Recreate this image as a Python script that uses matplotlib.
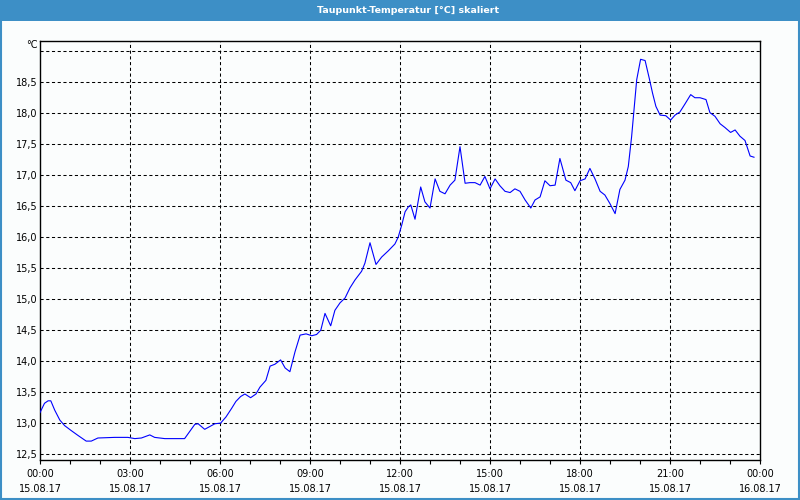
import matplotlib
matplotlib.use("Agg")
import matplotlib.pyplot as plt
from matplotlib.patches import Rectangle

# ---- data (hours after 15.08.17 00:00, dew point in °C) ----
hours = [0.00, 0.15, 0.27, 0.36, 0.49, 0.66, 0.82, 1.04, 1.27, 1.54, 1.71, 1.93,
         2.49, 2.93, 3.16, 3.38, 3.66, 3.82, 4.16, 4.82, 5.16, 5.27, 5.49, 5.83,
         6.02, 6.20, 6.39, 6.53, 6.69, 6.83, 7.02, 7.20, 7.33, 7.53, 7.67, 7.83,
         8.02, 8.17, 8.33, 8.50, 8.67, 8.87, 9.06, 9.22, 9.36, 9.50, 9.69, 9.83,
         10.00, 10.17, 10.33, 10.50, 10.72, 10.83, 11.00, 11.20, 11.39, 11.61, 11.83, 11.94,
         12.06, 12.17, 12.28, 12.36, 12.50, 12.69, 12.83, 13.00, 13.17, 13.33, 13.50, 13.67,
         13.83, 14.00, 14.17, 14.33, 14.50, 14.67, 14.83, 15.00, 15.17, 15.33, 15.50, 15.67,
         15.83, 16.00, 16.17, 16.36, 16.50, 16.67, 16.83, 17.00, 17.17, 17.33, 17.53, 17.69,
         17.83, 18.00, 18.17, 18.33, 18.50, 18.67, 18.83, 19.00, 19.17, 19.33, 19.50, 19.61,
         19.72, 19.80, 19.89, 20.02, 20.17, 20.31, 20.42, 20.53, 20.67, 20.86, 21.02, 21.17,
         21.33, 21.50, 21.69, 21.83, 22.00, 22.20, 22.33, 22.50, 22.67, 22.83, 23.02, 23.17,
         23.33, 23.50, 23.67, 23.80]
dewpoint = [13.17, 13.32, 13.36, 13.36, 13.21, 13.05, 12.96, 12.88, 12.80, 12.71, 12.71, 12.76,
            12.77, 12.77, 12.75, 12.76, 12.81, 12.77, 12.75, 12.75, 12.98, 12.99, 12.90, 12.99,
            13.00, 13.10, 13.24, 13.35, 13.43, 13.47, 13.41, 13.47, 13.58, 13.69, 13.92, 13.95,
            14.02, 13.89, 13.83, 14.15, 14.42, 14.44, 14.41, 14.43, 14.50, 14.77, 14.57, 14.82,
            14.94, 15.02, 15.18, 15.31, 15.45, 15.58, 15.91, 15.56, 15.68, 15.78, 15.89, 16.00,
            16.20, 16.41, 16.49, 16.52, 16.29, 16.81, 16.57, 16.47, 16.94, 16.74, 16.70, 16.84,
            16.92, 17.46, 16.87, 16.88, 16.88, 16.84, 16.98, 16.78, 16.94, 16.83, 16.74, 16.72,
            16.78, 16.74, 16.60, 16.47, 16.60, 16.65, 16.91, 16.83, 16.84, 17.27, 16.92, 16.88,
            16.75, 16.91, 16.94, 17.11, 16.94, 16.74, 16.68, 16.54, 16.38, 16.77, 16.92, 17.14,
            17.62, 18.05, 18.54, 18.87, 18.85, 18.56, 18.32, 18.11, 17.97, 17.96, 17.89, 17.97,
            18.02, 18.15, 18.30, 18.25, 18.25, 18.22, 18.01, 17.95, 17.83, 17.77, 17.69, 17.73,
            17.63, 17.56, 17.31, 17.29]

x_major = [0, 3, 6, 9, 12, 15, 18, 21, 24]
x_labels = ["00:00\n15.08.17", "03:00\n15.08.17", "06:00\n15.08.17", "09:00\n15.08.17",
            "12:00\n15.08.17", "15:00\n15.08.17", "18:00\n15.08.17", "21:00\n15.08.17",
            "00:00\n16.08.17"]
y_ticks = [12.5, 13.0, 13.5, 14.0, 14.5, 15.0, 15.5, 16.0, 16.5, 17.0, 17.5, 18.0, 18.5, 19.0]
y_labels = ["12,5", "13,0", "13,5", "14,0", "14,5", "15,0", "15,5", "16,0", "16,5",
            "17,0", "17,5", "18,0", "18,5", ""]
title = "Taupunkt-Temperatur [°C] skaliert"
unit = "°C"

BLUE_FRAME = "#3d8fc6"
BG = "#fbfdfd"

plt.rcParams["font.family"] = ["DejaVu Sans"]

fig = plt.figure(figsize=(8, 5), dpi=100, facecolor=BG)
W, H = 800, 500

# title band and frame
fig.patches.append(Rectangle((0, 1 - 21 / H), 1, 21 / H, transform=fig.transFigure,
                             facecolor=BLUE_FRAME, edgecolor="none", zorder=0))
fig.patches.append(Rectangle((1 / W, 1 / H), 1 - 2.5 / W, 1 - 2 / H, transform=fig.transFigure,
                             facecolor="none", edgecolor=BLUE_FRAME, linewidth=1.5, zorder=1))
fig.text(408 / W, 1 - 10.5 / H, title, color="white", fontsize=6.8, fontweight="bold",
         ha="center", va="center")

ax = fig.add_axes([40 / W, 1 - 460 / H, 720 / W, (460 - 40.7) / H])
ax.set_facecolor(BG)
ax.plot(hours, dewpoint, color="#0000ff", linewidth=0.8, zorder=3)

ax.set_xlim(0, 24)
ax.set_ylim(12.405, 19.17)

ax.set_xticks(x_major)
ax.set_xticklabels(x_labels, linespacing=1.6)
ax.set_xticks(range(0, 25), minor=True)
ax.set_yticks(y_ticks)
ax.set_yticklabels(y_labels)

ax.tick_params(axis="x", which="both", direction="out", length=3, width=0.8, color="black",
               labelsize=7, pad=3.5)
ax.tick_params(axis="y", which="both", length=0, labelsize=7, pad=2)

for s in ax.spines.values():
    s.set_color("black")
    s.set_linewidth(1.0)

for yv in y_ticks:
    ax.axhline(yv, color="black", linewidth=0.75, linestyle=(0, (3, 2.5)), zorder=1)
for xv in x_major[1:-1]:
    ax.axvline(xv, color="black", linewidth=0.75, linestyle=(0, (3, 2.5)), zorder=1)

fig.text(38 / W, 1 - 44.5 / H, unit, fontsize=7, ha="right", va="center")

fig.savefig("out.png", dpi=100, facecolor=BG)
